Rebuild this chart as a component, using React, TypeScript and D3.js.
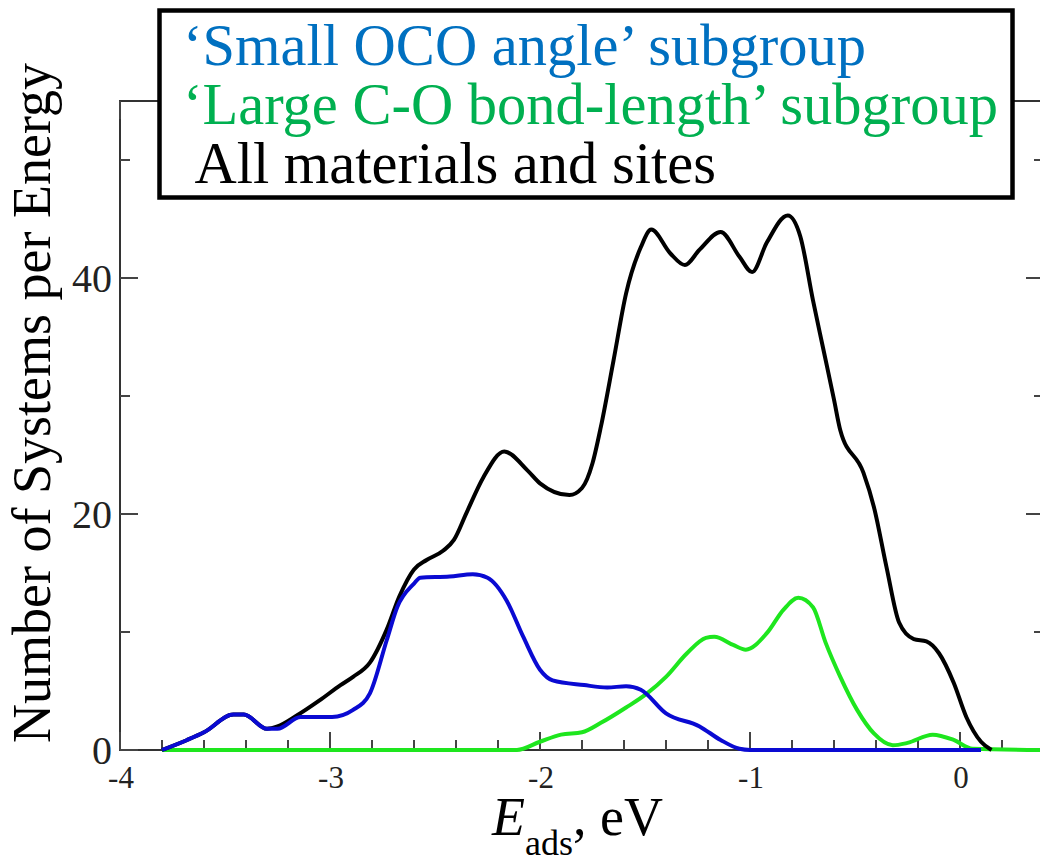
import * as React from 'react';
import { useRef, useEffect } from 'react';
import * as d3 from 'd3';

// adsorption energy grid (eV) and counts
const blueE = [-3.8, -3.68, -3.6, -3.46, -3.41, -3.3, -3.25, -3.14, -2.99, -2.89, -2.81, -2.73, -2.68, -2.6, -2.57, -2.43, -2.32, -2.25, -2.16, -2.08, -2.0, -1.94, -1.79, -1.68, -1.59, -1.52, -1.4, -1.24, -1.14, -1.05, -1.0, 0.1];
const blueV = [0, 0.85, 1.5, 3.0, 3.0, 1.8, 1.8, 2.8, 2.8, 3.4, 4.8, 9.3, 12.1, 14.1, 14.6, 14.7, 14.9, 14.6, 12.7, 9.6, 6.8, 5.9, 5.5, 5.3, 5.4, 5.1, 3.1, 2.0, 0.85, 0.1, 0, 0];

const blackE = [-3.8, -3.68, -3.6, -3.46, -3.41, -3.3, -3.25, -3.16, -3.05, -2.95, -2.89, -2.81, -2.73, -2.67, -2.6, -2.54, -2.46, -2.41, -2.35, -2.27, -2.17, -2.06, -2.0, -1.86, -1.8, -1.75, -1.71, -1.65, -1.59, -1.52, -1.47, -1.38, -1.31, -1.24, -1.14, -1.05, -0.99, -0.92, -0.82, -0.76, -0.7, -0.65, -0.6, -0.57, -0.46, -0.41, -0.35, -0.29, -0.22, -0.16, -0.1, -0.03, 0.03, 0.1, 0.15];
const blackV = [0, 0.85, 1.5, 3.0, 3.0, 1.8, 2.0, 2.9, 4.2, 5.5, 6.2, 7.4, 10.2, 13.0, 15.3, 16.1, 16.9, 17.8, 20.1, 23.1, 25.3, 23.7, 22.6, 21.6, 22.2, 24.3, 27.4, 33.0, 38.7, 42.6, 44.1, 42.1, 41.1, 42.4, 43.9, 41.8, 40.5, 43.0, 45.3, 43.5, 38.1, 33.9, 29.7, 27.1, 23.5, 20.6, 15.5, 10.8, 9.4, 9.2, 8.2, 5.7, 2.8, 0.7, 0];

const greenE = [-3.8, -2.11, -2.0, -1.9, -1.8, -1.71, -1.59, -1.49, -1.4, -1.3, -1.21, -1.17, -1.08, -1.02, -0.92, -0.84, -0.77, -0.7, -0.64, -0.57, -0.49, -0.41, -0.32, -0.25, -0.13, -0.03, 0.06, 0.4];
const greenV = [0, 0, 0.7, 1.3, 1.5, 2.3, 3.6, 4.8, 6.2, 8.2, 9.5, 9.6, 8.9, 8.5, 9.9, 11.9, 12.9, 12.1, 9.1, 6.2, 3.4, 1.4, 0.4, 0.6, 1.3, 0.85, 0.1, 0];

const xMajorTicks = [-4, -3, -2, -1, 0];
const yMajorTicks = [0, 20, 40];

const legendLabels = ['‘Small OCO angle’ subgroup', '‘Large C-O bond-length’ subgroup', ' All materials and sites'];
const legendColors = ['#0070c0', '#00b050', '#000000'];

type Pt = { e: number; v: number };

export default function App() {
  const ref = useRef<SVGSVGElement>(null);
  const width = 1040;
  const height = 866;
  const font = '"Liberation Serif", "Times New Roman", serif';

  useEffect(() => {
    if (!ref.current) return;
    const svg = d3.select(ref.current);
    svg.selectAll('*').remove();

    const x = d3.scaleLinear().domain([-4, 0.4]).range([120, 1044]);
    const y = d3.scaleLinear().domain([0, 55]).range([750, 101]);

    const zip = (es: number[], vs: number[]): Pt[] => es.map((e, i) => ({ e, v: vs[i] }));

    const line = d3.line<Pt>()
      .x((d) => x(d.e))
      .y((d) => y(d.v))
      .curve(d3.curveMonotoneX);

    // frame
    svg.append('rect')
      .attr('x', x(-4)).attr('y', y(55))
      .attr('width', x(0.4) - x(-4)).attr('height', y(0) - y(55))
      .attr('fill', 'none').attr('stroke', '#333').attr('stroke-width', 2);

    const xMinor = d3.range(-4, 0.41, 0.2).map((d) => +d.toFixed(1));
    const yMinor = d3.range(0, 56, 10);

    const tickColor = '#444';
    // bottom + top ticks
    [[y(0), -1], [y(55), 1]].forEach(([py, dir]) => {
      svg.append('g').selectAll('line').data(xMinor).join('line')
        .attr('x1', (d) => x(d)).attr('x2', (d) => x(d))
        .attr('y1', py)
        .attr('y2', (d) => py + dir * (xMajorTicks.includes(d) ? 18 : 10))
        .attr('stroke', tickColor).attr('stroke-width', 2);
    });
    // left + right ticks
    [[x(-4), 1], [x(0.4), -1]].forEach(([px, dir]) => {
      svg.append('g').selectAll('line').data(yMinor).join('line')
        .attr('y1', (d) => y(d)).attr('y2', (d) => y(d))
        .attr('x1', px)
        .attr('x2', (d) => px + dir * (yMajorTicks.includes(d) ? 18 : 10))
        .attr('stroke', tickColor).attr('stroke-width', 2);
    });

    svg.append('g').selectAll('text').data(xMajorTicks).join('text')
      .attr('x', (d) => x(d) + 1).attr('y', 788)
      .attr('text-anchor', 'middle')
      .attr('font-family', font).attr('font-size', 31).attr('fill', '#222')
      .text((d) => String(d));

    svg.append('g').selectAll('text').data(yMajorTicks).join('text')
      .attr('x', 112).attr('y', (d) => y(d) + 14)
      .attr('text-anchor', 'end')
      .attr('font-family', font).attr('font-size', 40).attr('fill', '#222')
      .text((d) => String(d));

    // curves: green under black under blue
    const series: [number[], number[], string][] = [
      [greenE, greenV, '#1ee61e'],
      [blackE, blackV, '#000000'],
      [blueE, blueV, '#0a0ad2'],
    ];
    series.forEach(([es, vs, c]) => {
      svg.append('path')
        .datum(zip(es, vs))
        .attr('fill', 'none')
        .attr('stroke', c)
        .attr('stroke-width', 4)
        .attr('stroke-linejoin', 'round')
        .attr('d', line);
    });

    // axis titles
    svg.append('text')
      .attr('transform', 'translate(50,403) rotate(-90)')
      .attr('text-anchor', 'middle')
      .attr('font-family', font).attr('font-size', 54)
      .text('Number of Systems per Energy');

    const xt = svg.append('text')
      .attr('x', 492).attr('y', 835)
      .attr('font-family', font).attr('font-size', 54);
    xt.append('tspan').attr('font-style', 'italic').text('E');
    xt.append('tspan').attr('font-size', 36).attr('dy', 20).text('ads');
    xt.append('tspan').attr('dy', -20).text(',\u00a0eV');

    // legend
    svg.append('rect')
      .attr('x', 159.5).attr('y', 10.5)
      .attr('width', 853).attr('height', 187)
      .attr('fill', '#fff').attr('stroke', '#000').attr('stroke-width', 4.5);

    svg.append('g').selectAll('text').data(legendLabels).join('text')
      .attr('x', 183).attr('y', (_, i) => 65 + i * 59)
      .attr('font-family', font).attr('font-size', 58.5)
      .attr('fill', (_, i) => legendColors[i])
      .style('white-space', 'pre')
      .text((d) => d);
  }, []);

  return (
    <svg
      ref={ref}
      width={width}
      height={height}
      style={{ position: 'absolute', left: 0, top: 0, background: '#fff' }}
    />
  );
}
